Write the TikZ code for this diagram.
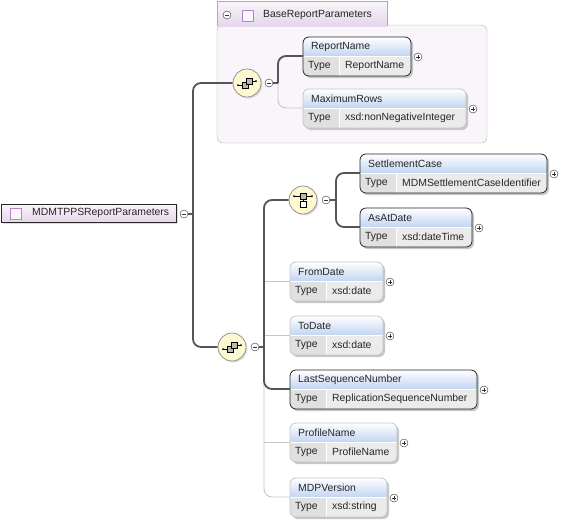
\documentclass[tikz,border=0pt]{standalone}
\usepackage{fontspec}
\setmainfont{Liberation Sans}
\usetikzlibrary{shadows}
\definecolor{hdrblue}{HTML}{C2D5F2}
\definecolor{typegray}{HTML}{E0E0E0}
\definecolor{typelight}{HTML}{EBEBEB}
\definecolor{compfill}{HTML}{FFF9D2}
\definecolor{lilac}{HTML}{E6D6EB}
\definecolor{lilacpale}{HTML}{F9F5FA}
\definecolor{lilacedge}{HTML}{B584C4}
\definecolor{wiregray}{HTML}{555555}
\tikzset{
  etext/.style={anchor=west, inner sep=0pt, text=black!85, font=\fontsize{10.4}{12}\selectfont},
  mand/.style={draw=black!85, line width=0.8pt},
  opt/.style={draw=gray!45, line width=0.8pt},
  wire/.style={draw=wiregray, line width=1.8pt},
  optwire/.style={draw=gray!45, line width=0.9pt},
  comp/.style={circle, draw=gray!85, line width=0.8pt, fill=compfill, minimum size=28pt, inner sep=0pt,
    drop shadow={shadow xshift=1.5pt, shadow yshift=-1.5pt, fill=gray!50}},
  toggle/.style={circle, draw=black!80, fill=white, inner sep=0pt, minimum size=8pt},
  togminus/.style={toggle,
    path picture={\draw ([xshift=2pt]path picture bounding box.west) -- ([xshift=-2pt]path picture bounding box.east);}},
  togplus/.style={toggle,
    path picture={\draw ([xshift=2pt]path picture bounding box.west) -- ([xshift=-2pt]path picture bounding box.east);
      \draw ([yshift=2pt]path picture bounding box.south) -- ([yshift=-2pt]path picture bounding box.north);}},
}
% element box: [border](left,top)(width:name:type)
\def\xelem[#1](#2,#3)(#4:#5:#6){%
  \fill[gray!45, rounded corners=6] ({#2+2},{#3+2}) rectangle ++(#4,39);
  \begin{scope}
    \clip[rounded corners=6] (#2,#3) rectangle ++(#4,39);
    \shade[top color=white, bottom color=hdrblue] (#2,#3) rectangle ++(#4,19);
    \fill[typegray] ({#2},{#3+19}) rectangle ++(#4,20);
    \fill[typelight] ({#2+36},{#3+19}) rectangle ++({#4-36},20);
    \draw[white] ({#2+36},{#3+19}) -- ++(0,20);
    \draw[white] ({#2},{#3+19}) -- ++(#4,0);
  \end{scope}
  \draw[#1, rounded corners=6] (#2,#3) rectangle ++(#4,39);
  \node[etext] (#5) at ({#2+8},{#3+10}) {#5};
  \node[etext] (#5-type) at ({#2+5},{#3+29}) {Type};
  \node[etext] (#5-val) at ({#2+42},{#3+29}) {#6};
  \coordinate (#5-in) at ({#2},{#3+19});
  \node[togplus] (#5-plus) at ({#2+#4+7},{#3+20}) {};
}

\begin{document}
\begin{tikzpicture}[x=1pt, y=-1pt]
  \useasboundingbox (0,0) rectangle (564,523);

  %%%%% group BaseReportParameters %%%%%
  \draw[gray!65, fill=lilacpale, rounded corners=6] (217,25) rectangle (487,143);
  \shade[top color=lilacpale, bottom color=lilac] (217,1) rectangle (387,26);
  \draw[gray!65] (217,26) -- (217,1) -- (387,1) -- (387,26);
  \node[togminus] (groupm) at (227,15) {};
  \draw[lilacedge, fill=lilacpale] (242,10) rectangle (253,21);
  \node[etext] (group) at (263,15) {BaseReportParameters};

  %%%%% root %%%%%
  \node[draw=black!85, line width=0.8pt, minimum width=175pt, minimum height=18pt, inner sep=0pt,
    top color=lilacpale, bottom color=lilac,
    drop shadow={shadow xshift=2pt, shadow yshift=-2pt, fill=gray!50}] (root) at (88.5,213) {};
  \draw[lilacedge, fill=lilacpale] (10,208) rectangle (21,219);
  \node[etext] (root-label) at (32,213) {MDMTPPSReportParameters};
  \node[togminus] (rootm) at (184,214) {};

  %%%%% compositors %%%%%
  \node[comp] (seq1) at (247,83) {};
  \node[togminus] (seq1m) at (269,83) {};
  \node[comp] (choice) at (303,200) {};
  \node[togminus] (choicem) at (326,200) {};
  \node[comp] (seq2) at (232,347) {};
  \node[togminus] (seq2m) at (255,347) {};

  \begin{scope}[shift={(seq1.center)}]
    \draw (-9,2) -- (-5,2);
    \draw (5,-2) -- (9,-2);
    \draw[fill=gray!55] (-5,-1) rectangle (1,5);
    \draw[fill=gray!55] (-1,-5) rectangle (5,1);
    \fill (-9,2) circle (1);
    \fill (9,-2) circle (1);
  \end{scope}
  \begin{scope}[shift={(seq2.center)}]
    \draw (-9,2) -- (-5,2);
    \draw (5,-2) -- (9,-2);
    \draw[fill=gray!55] (-5,-1) rectangle (1,5);
    \draw[fill=gray!55] (-1,-5) rectangle (5,1);
    \fill (-9,2) circle (1);
    \fill (9,-2) circle (1);
  \end{scope}
  \begin{scope}[shift={(choice.center)}]
    \draw (-9,-4) -- (9,-4);
    \draw (0,-1) -- (0,1);
    \draw[fill=gray!55] (-3,-7) rectangle (3,-1);
    \draw[fill=white] (-3,1) rectangle (3,7);
    \fill (-9,-4) circle (1);
    \fill (9,-4) circle (1);
  \end{scope}

  %%%%% elements %%%%%
  \xelem[mand](303,37)(108:ReportName:ReportName)
  \xelem[opt](303,89)(163:MaximumRows:xsd:nonNegativeInteger)
  \xelem[mand](360,154)(187:SettlementCase:MDMSettlementCaseIdentifier)
  \xelem[mand](360,208)(112:AsAtDate:xsd:dateTime)
  \xelem[opt](290,262)(93:FromDate:xsd:date)
  \xelem[opt](290,316)(93:ToDate:xsd:date)
  \xelem[mand](290,370)(187:LastSequenceNumber:ReplicationSequenceNumber)
  \xelem[opt](290,423)(107:ProfileName:ProfileName)
  \xelem[opt](290,478)(97:MDPVersion:xsd:string)

  %%%%% connectors %%%%%
  \coordinate (trunk) at (193,214);
  \coordinate (fan1) at (278,83);
  \coordinate (fan2) at (264,347);
  \coordinate (fan3) at (336,200);

  \draw[optwire, rounded corners=8] (fan1) |- (MaximumRows-in);
  \draw[optwire, rounded corners=8] (fan2) |- (MDPVersion-in);
  \draw[optwire] (FromDate-in -| fan2) -- (FromDate-in);
  \draw[optwire] (ToDate-in -| fan2) -- (ToDate-in);
  \draw[optwire] (ProfileName-in -| fan2) -- (ProfileName-in);

  \draw[wire] (rootm) -- (trunk);
  \draw[wire, rounded corners=8] (seq1.west) -| (trunk) |- (seq2.west);
  \draw[wire] (seq1m) -- (fan1);
  \draw[wire, rounded corners=8] (fan1) |- (ReportName-in);
  \draw[wire] (seq2m) -- (fan2);
  \draw[wire, rounded corners=8] (choice.west) -| (fan2) |- (LastSequenceNumber-in);
  \draw[wire] (choicem) -- (fan3);
  \draw[wire, rounded corners=8] (SettlementCase-in) -| (fan3) |- (AsAtDate-in);
\end{tikzpicture}
\end{document}
